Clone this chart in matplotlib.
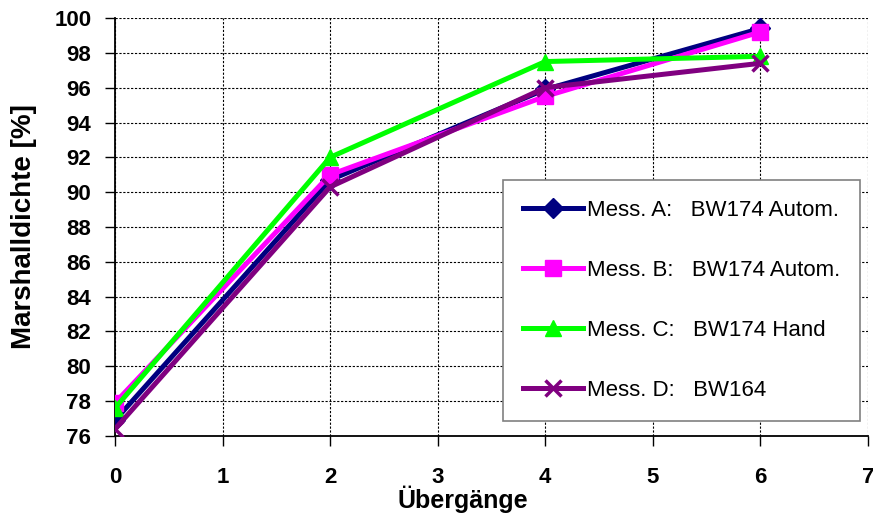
import matplotlib.pyplot as plt

plt.rcParams['font.family'] = ['Liberation Sans', 'DejaVu Sans']

uebergaenge = [0, 2, 4, 6]
mess_a = [76.9, 90.7, 95.9, 99.4]
mess_b = [77.9, 91.0, 95.5, 99.2]
mess_c = [77.6, 92.0, 97.5, 97.8]
mess_d = [76.4, 90.3, 96.0, 97.4]
labels = ["Mess. A:   BW174 Autom.", "Mess. B:   BW174 Autom.",
          "Mess. C:   BW174 Hand", "Mess. D:   BW164"]

fig = plt.figure(figsize=(8.73, 5.22), dpi=100)
ax = fig.add_axes([0.1317, 0.1648, 0.8626, 0.8007])

ax.plot(uebergaenge, mess_a, color='#000080', lw=3.6, marker='D', ms=10, label=labels[0], zorder=3)
ax.plot(uebergaenge, mess_b, color='#ff00ff', lw=3.6, marker='s', ms=11, label=labels[1], zorder=4)
ax.plot(uebergaenge, mess_c, color='#00ff00', lw=3.6, marker='^', ms=12, label=labels[2], zorder=5)
ax.plot(uebergaenge, mess_d, color='#800080', lw=3.6, marker='x', ms=12, mew=2.5, label=labels[3], zorder=6)

ax.set_xlim(0, 7)
ax.set_ylim(76, 100)
ax.set_xticks(range(0, 8))
ax.set_yticks(range(76, 101, 2))
ax.grid(True, color='black', linestyle=(0, (2, 1.5)), linewidth=0.8)
for s in ['top', 'right']:
    ax.spines[s].set_visible(False)
ax.spines['left'].set_linewidth(1.3)
ax.spines['bottom'].set_linewidth(1.3)
ax.tick_params(direction='out', length=7, width=1, labelsize=16)
ax.tick_params(axis='y', pad=10)
ax.tick_params(axis='x', pad=15)
for t in ax.get_xticklabels() + ax.get_yticklabels():
    t.set_fontweight('bold')

ax.set_xlabel('Übergänge', fontsize=18, fontweight='bold', va='top')
ax.xaxis.set_label_coords(0.4615, -0.1196)
ax.set_ylabel('Marshalldichte [%]', fontsize=20, fontweight='bold')
ax.yaxis.set_label_coords(-0.1036, 0.5)

leg = ax.legend(loc='upper left', bbox_to_anchor=(0.5153, 0.6124), borderaxespad=0,
                fontsize=16, handlelength=2.7, handletextpad=0.18, labelspacing=1.75,
                borderpad=0.9, fancybox=False, framealpha=1, edgecolor='#808080')
leg.get_frame().set_linewidth(1.2)

fig.savefig('out.png', dpi=100)
